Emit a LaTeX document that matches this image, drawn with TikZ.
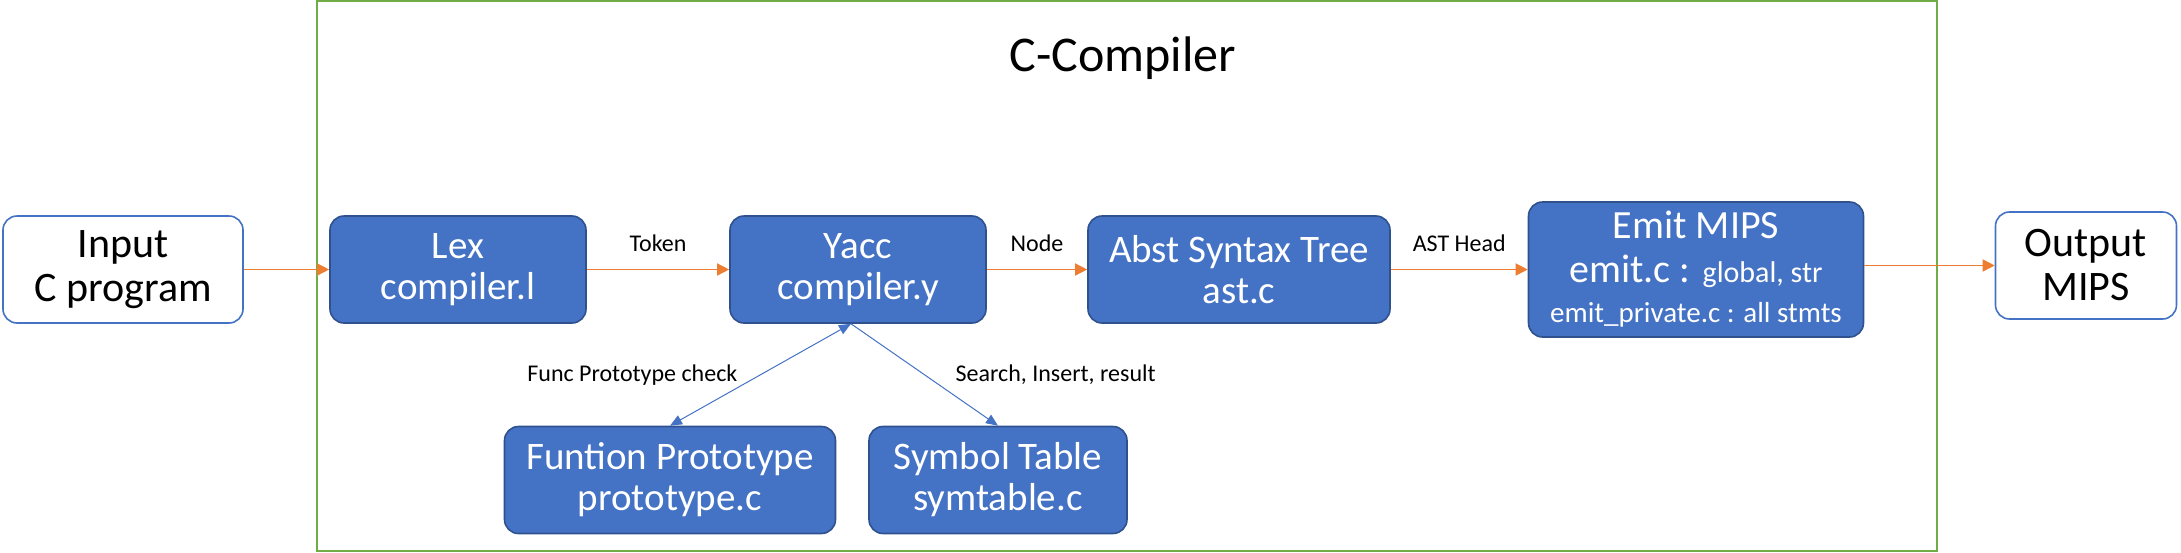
\documentclass[tikz,border=0pt]{standalone}
\usepackage{fontspec}
\setmainfont{Carlito}
\usetikzlibrary{positioning,arrows.meta}
\definecolor{cbox}{HTML}{4472C4}
\definecolor{cedge}{HTML}{2F528F}
\definecolor{cflow}{HTML}{ED7D31}
\definecolor{cframe}{HTML}{70AD47}

\begin{document}
\begin{tikzpicture}[x=0.5pt,y=-0.5pt,>=Latex,
  blk/.style={draw=cedge,fill=cbox,text=white,rounded corners=7pt,line width=0.8pt,
    align=center,minimum height=53.5pt,font=\fontsize{19.5}{20.5}\selectfont},
  io/.style={draw=cbox,fill=white,rounded corners=7pt,line width=0.8pt,
    align=center,minimum height=53.5pt,font=\fontsize{21}{22}\selectfont},
  flow/.style={-{Triangle[length=6pt,width=6pt]},cflow,line width=0.7pt},
  lnk/.style={cbox,line width=0.5pt},
  lbl/.style={text=black,font=\fontsize{12}{14}\selectfont}]
\useasboundingbox (0,0) rectangle (2181,552);
% compiler frame
\draw[cframe,line width=1pt] (317,1) rectangle (1937,551);
\node (title) at (1123,58) {\fontsize{25}{28}\selectfont C-Compiler};
% input / output
\node[io,minimum width=120pt] (input) at (123,269.5) {Input\\C program};
\node[io,minimum width=90.5pt] (output) at (2086,265.5) {Output\\MIPS};
% pipeline
\node[blk,minimum width=128pt] (lex) at (458,269.5) {Lex\\compiler.l};
\node[blk,minimum width=128pt] (yacc) at (858,269.5) {Yacc\\compiler.y};
\node[blk,minimum width=151pt] (ast) at (1239,269.5) {Abst Syntax Tree\\ast.c};
\node[blk,minimum width=167.5pt,minimum height=67.5pt,font=\fontsize{20}{21}\selectfont] (emit) at (1696,269.5)
  {Emit MIPS\\[1pt]emit.c : {\fontsize{15}{16}\selectfont global, str}\\[-1pt]
   {\fontsize{14.5}{16}\selectfont emit\_private.c : all stmts}};
% helper tables
\node[blk,minimum width=165.5pt] (proto) at (670,480) {Funtion Prototype\\prototype.c};
\node[blk,minimum width=129pt] (symtab) at (998,480) {Symbol Table\\symtable.c};
% flow
\draw[flow] (input) -- (lex);
\draw[flow] (lex) -- node[lbl,above=5pt]{Token} (yacc);
\draw[flow] (yacc) -- node[lbl,above=5pt]{Node} (ast);
\draw[flow] (ast) -- node[lbl,above=5pt]{AST Head} (emit);
\draw[flow] (emit.east |- output) -- (output.west);
% table links
\coordinate (yb) at ([xshift=-3.5pt]yacc.south);
\draw[lnk,{Triangle[length=6pt,width=5pt]}-{Triangle[length=6pt,width=5pt]}]
  (yb) -- node[lbl,left=8pt]{Func Prototype check} (proto.north);
\draw[lnk,-{Triangle[length=6pt,width=5pt]}]
  (yb) -- node[lbl,right=12pt]{Search, Insert, result} (symtab.north);
\end{tikzpicture}
\end{document}
